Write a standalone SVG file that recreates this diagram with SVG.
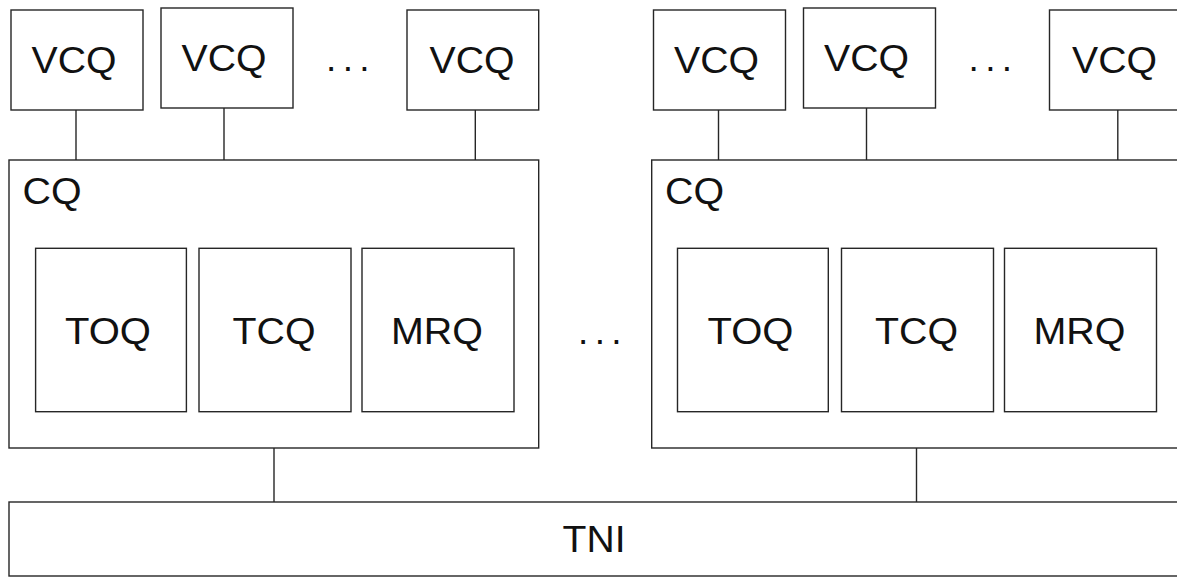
<svg xmlns="http://www.w3.org/2000/svg" width="1177" height="577" viewBox="0 0 1177 577">
<style>
rect{fill:#fff;stroke:#262626;stroke-width:1.4}
line{stroke:#262626;stroke-width:1.4}
text{font-family:"Liberation Sans",Arial,sans-serif;font-size:37px;fill:#111}
.m{text-anchor:middle}
.d{letter-spacing:6.4px}
</style>
<rect x="0" y="0" width="1177" height="577" style="stroke:none"/>
<g id="connectors">
<line x1="76" y1="110" x2="76" y2="160"/>
<line x1="224" y1="108" x2="224" y2="160"/>
<line x1="475.3" y1="110" x2="475.3" y2="160"/>
<line x1="718.5" y1="110" x2="718.5" y2="160"/>
<line x1="866.5" y1="108" x2="866.5" y2="160"/>
<line x1="1117.8" y1="110" x2="1117.8" y2="160"/>
<line x1="274" y1="448" x2="274" y2="502"/>
<line x1="916.5" y1="448" x2="916.5" y2="502"/>
</g>
<g id="vcq1"><rect x="11" y="10" width="132" height="100"/><text class="m" x="74" y="73" textLength="85" lengthAdjust="spacingAndGlyphs">VCQ</text></g>
<g id="vcq2"><rect x="161" y="8" width="132" height="100"/><text class="m" x="224" y="71" textLength="85" lengthAdjust="spacingAndGlyphs">VCQ</text></g>
<g id="dots1"><text class="d" x="326" y="71">...</text></g>
<g id="vcq3"><rect x="407" y="10" width="131.7" height="100"/><text class="m" x="472" y="73" textLength="85" lengthAdjust="spacingAndGlyphs">VCQ</text></g>
<g id="cq1">
<rect x="9" y="160" width="529.7" height="288"/>
<text x="22.5" y="204" textLength="59" lengthAdjust="spacingAndGlyphs">CQ</text>
<g id="toq1"><rect x="35.6" y="248.3" width="150.8" height="163.4"/><text class="m" x="108" y="343.5" textLength="86" lengthAdjust="spacingAndGlyphs">TOQ</text></g>
<g id="tcq1"><rect x="199" y="248.3" width="152" height="163.4"/><text class="m" x="274" y="343.5" textLength="83" lengthAdjust="spacingAndGlyphs">TCQ</text></g>
<g id="mrq1"><rect x="362" y="248.3" width="152" height="163.4"/><text class="m" x="437" y="343.5" textLength="92" lengthAdjust="spacingAndGlyphs">MRQ</text></g>
</g>
<g id="dots2"><text class="d" x="578" y="344">...</text></g>
<g id="vcq4"><rect x="653.5" y="10" width="132" height="100"/><text class="m" x="716.5" y="73" textLength="85" lengthAdjust="spacingAndGlyphs">VCQ</text></g>
<g id="vcq5"><rect x="803.5" y="8" width="132" height="100"/><text class="m" x="866.5" y="71" textLength="85" lengthAdjust="spacingAndGlyphs">VCQ</text></g>
<g id="dots3"><text class="d" x="968.5" y="71">...</text></g>
<g id="vcq6"><rect x="1049.5" y="10" width="131.7" height="100"/><text class="m" x="1114.5" y="73" textLength="85" lengthAdjust="spacingAndGlyphs">VCQ</text></g>
<g id="cq2">
<rect x="651.7" y="160" width="529.7" height="288"/>
<text x="665" y="204" textLength="59" lengthAdjust="spacingAndGlyphs">CQ</text>
<g id="toq2"><rect x="677.5" y="248.3" width="150.8" height="163.4"/><text class="m" x="750.5" y="343.5" textLength="86" lengthAdjust="spacingAndGlyphs">TOQ</text></g>
<g id="tcq2"><rect x="841.5" y="248.3" width="152" height="163.4"/><text class="m" x="916.5" y="343.5" textLength="83" lengthAdjust="spacingAndGlyphs">TCQ</text></g>
<g id="mrq2"><rect x="1004.5" y="248.3" width="152" height="163.4"/><text class="m" x="1079.5" y="343.5" textLength="92" lengthAdjust="spacingAndGlyphs">MRQ</text></g>
</g>
<g id="tni"><rect x="9" y="502" width="1173" height="74"/><text class="m" x="594" y="552" textLength="63" lengthAdjust="spacingAndGlyphs">TNI</text></g>
</svg>
